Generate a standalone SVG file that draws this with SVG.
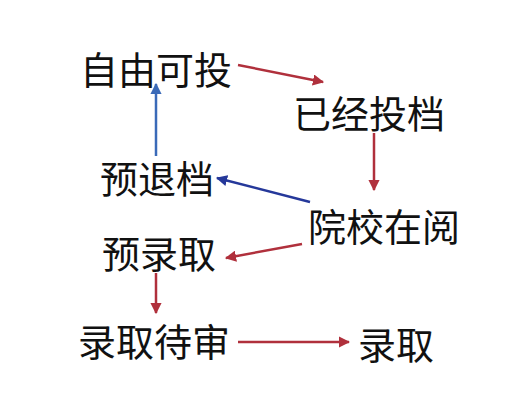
<svg xmlns="http://www.w3.org/2000/svg" width="523" height="407" viewBox="0 0 523 407">
<style>
text{font-family:"Liberation Serif","Noto Sans CJK SC",serif;font-size:38px;fill:#111}
.r{stroke:#b0303c;stroke-width:2.5;fill:none}
.b{stroke:#25389a;stroke-width:2.5;fill:none}
.lb{stroke:#3a6ab8;stroke-width:2.5;fill:none}
</style>
<defs>
<marker id="ar" viewBox="0 0 10 10" refX="9" refY="5" markerWidth="4.5" markerHeight="4.5" orient="auto"><path d="M0,0L10,5L0,10z" fill="#b0303c"/></marker>
<marker id="ab" viewBox="0 0 10 10" refX="9" refY="5" markerWidth="4.5" markerHeight="4.5" orient="auto"><path d="M0,0L10,5L0,10z" fill="#25389a"/></marker>
<marker id="alb" viewBox="0 0 10 10" refX="9" refY="5" markerWidth="4.5" markerHeight="4.5" orient="auto"><path d="M0,0L10,5L0,10z" fill="#3a6ab8"/></marker>
</defs>
<rect width="523" height="407" fill="#fff"/>
<g id="connectors">
<line class="r" x1="238" y1="65" x2="323" y2="82" marker-end="url(#ar)"/>
<line class="lb" x1="156" y1="156" x2="156" y2="84" marker-end="url(#alb)"/>
<line class="r" x1="374" y1="133" x2="374" y2="190" marker-end="url(#ar)"/>
<line class="b" x1="310" y1="202" x2="217" y2="178" marker-end="url(#ab)"/>
<line class="r" x1="302" y1="244" x2="226" y2="258" marker-end="url(#ar)"/>
<line class="r" x1="156" y1="273" x2="156" y2="313" marker-end="url(#ar)"/>
<line class="r" x1="238" y1="342" x2="349" y2="342" marker-end="url(#ar)"/>
</g>
<g id="n1"><text x="80" y="84">自由可投</text></g>
<g id="n2"><text x="293" y="128">已经投档</text></g>
<g id="n3"><text x="100" y="193">预退档</text></g>
<g id="n4"><text x="308" y="241">院校在阅</text></g>
<g id="n5"><text x="102" y="268">预录取</text></g>
<g id="n6"><text x="78" y="356">录取待审</text></g>
<g id="n7"><text x="358" y="359">录取</text></g>
</svg>
